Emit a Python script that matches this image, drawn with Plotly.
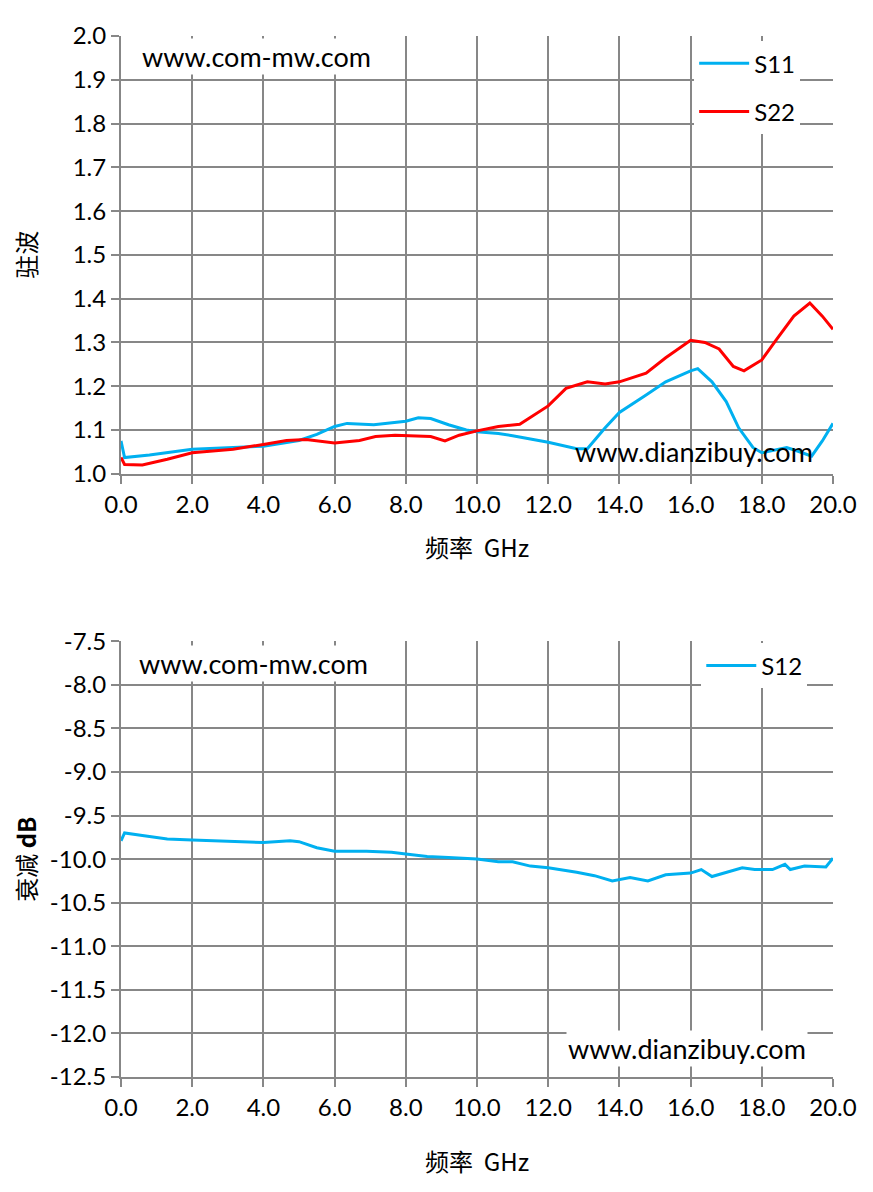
import plotly.graph_objects as go

# top chart: VSWR vs frequency (GHz)
s11_f = [0.0, 0.1, 0.8, 2.0, 3.15, 4.0, 5.0, 5.5, 6.0, 6.35, 7.1, 7.6, 8.0, 8.35, 8.7, 9.2, 9.7,
         10.0, 10.6, 11.0, 12.0, 12.8, 13.1, 13.6, 14.0, 14.75, 15.3, 16.0, 16.2, 16.6, 17.0,
         17.35, 17.75, 18.0, 18.7, 19.0, 19.4, 19.7, 20.0]
s11_v = [1.075, 1.037, 1.043, 1.056, 1.060, 1.063, 1.076, 1.090, 1.108, 1.115, 1.112, 1.117, 1.120,
         1.128, 1.126, 1.112, 1.100, 1.096, 1.092, 1.087, 1.072, 1.057, 1.057, 1.105, 1.140, 1.180,
         1.210, 1.235, 1.240, 1.210, 1.165, 1.105, 1.060, 1.048, 1.060, 1.052, 1.040, 1.075, 1.115]

s22_f = [0.0, 0.1, 0.6, 1.3, 2.0, 3.15, 4.0, 4.65, 5.2, 6.0, 6.7, 7.15, 7.7, 8.35, 8.7, 9.1, 9.5,
         10.0, 10.6, 11.2, 12.0, 12.5, 13.1, 13.6, 14.0, 14.75, 15.3, 16.0, 16.4, 16.8, 17.2, 17.5,
         18.0, 18.4, 18.9, 19.35, 19.7, 20.0]
s22_v = [1.037, 1.021, 1.020, 1.033, 1.048, 1.056, 1.067, 1.076, 1.078, 1.070, 1.076, 1.085, 1.088,
         1.086, 1.085, 1.075, 1.088, 1.098, 1.108, 1.113, 1.155, 1.195, 1.210, 1.205, 1.210, 1.230,
         1.265, 1.305, 1.300, 1.285, 1.245, 1.235, 1.260, 1.305, 1.360, 1.390, 1.360, 1.330]

# bottom chart: attenuation (dB)
s12_f = [0.0, 0.1, 0.6, 1.3, 2.0, 3.15, 4.0, 4.75, 5.0, 5.5, 6.0, 6.9, 7.6, 8.0, 8.6, 9.2, 10.0,
         10.6, 11.0, 11.5, 12.0, 12.8, 13.3, 13.8, 14.3, 14.8, 15.3, 16.0, 16.3, 16.6, 17.0, 17.45,
         17.8, 18.3, 18.65, 18.8, 19.2, 19.8, 20.0]
s12_v = [-9.79, -9.70, -9.73, -9.77, -9.78, -9.80, -9.81, -9.79, -9.80, -9.87, -9.91, -9.91, -9.92,
         -9.94, -9.97, -9.98, -10.00, -10.03, -10.03, -10.08, -10.10, -10.15, -10.19, -10.25, -10.21,
         -10.25, -10.18, -10.16, -10.12, -10.20, -10.15, -10.10, -10.12, -10.12, -10.06, -10.12,
         -10.08, -10.09, -9.99]

x_ticks = [0, 2, 4, 6, 8, 10, 12, 14, 16, 18, 20]
x_labels = ["0.0", "2.0", "4.0", "6.0", "8.0", "10.0", "12.0", "14.0", "16.0", "18.0", "20.0"]
vswr_ticks = [1.0, 1.1, 1.2, 1.3, 1.4, 1.5, 1.6, 1.7, 1.8, 1.9, 2.0]
vswr_labels = ["1.0", "1.1", "1.2", "1.3", "1.4", "1.5", "1.6", "1.7", "1.8", "1.9", "2.0"]
db_ticks = [-7.5, -8.0, -8.5, -9.0, -9.5, -10.0, -10.5, -11.0, -11.5, -12.0, -12.5]
db_labels = ["-7.5", "-8.0", "-8.5", "-9.0", "-9.5", "-10.0", "-10.5", "-11.0", "-11.5", "-12.0", "-12.5"]

BLUE = "#00B0F0"
RED = "#FF0000"
GRID = "#878787"
SANS = "Lato, Open Sans, sans-serif"
TICKFONT = dict(family=SANS, size=24, color="black")
CJK = "Noto Sans CJK SC"

fig = go.Figure()
fig.add_trace(go.Scatter(x=s11_f, y=s11_v, mode="lines", name="S11", line=dict(color=BLUE, width=3),
                         xaxis="x", yaxis="y", legend="legend", legendgroup="a"))
fig.add_trace(go.Scatter(x=s22_f, y=s22_v, mode="lines", name="S22", line=dict(color=RED, width=3),
                         xaxis="x", yaxis="y", legend="legend", legendgroup="b"))
fig.add_trace(go.Scatter(x=s12_f, y=s12_v, mode="lines", name="S12", line=dict(color=BLUE, width=3),
                         xaxis="x2", yaxis="y2", legend="legend2"))

axis_common = dict(showgrid=True, gridcolor=GRID, gridwidth=2, showline=True, linecolor=GRID,
                   linewidth=2, ticks="outside", ticklen=8, tickcolor=GRID, tickwidth=2,
                   tickfont=TICKFONT, zeroline=False, mirror=False)

fig.update_layout(
    width=873, height=1192,
    margin=dict(l=113, r=48, t=22, b=123),
    paper_bgcolor="white", plot_bgcolor="white",
    xaxis=dict(domain=[0, 1], anchor="y", range=[0, 20], tickvals=x_ticks, ticktext=x_labels,
               title=dict(text="频率  GHz", font=dict(family=CJK, size=24, color="black"), standoff=24),
               **axis_common),
    yaxis=dict(domain=[0.5795, 1.0], anchor="x", range=[1.0, 2.0], tickvals=vswr_ticks,
               ticktext=vswr_labels,
               title=dict(text="驻波", font=dict(family=CJK, size=24, color="black"), standoff=30),
               **axis_common),
    xaxis2=dict(domain=[0, 1], anchor="y2", range=[0, 20], tickvals=x_ticks, ticktext=x_labels,
                title=dict(text="频率  GHz", font=dict(family=CJK, size=24, color="black"), standoff=34),
                **axis_common),
    yaxis2=dict(domain=[0, 0.4186], anchor="x2", range=[-12.5, -7.5], tickvals=db_ticks,
                ticktext=db_labels,
                title=dict(text="衰减 <b>dB</b>", font=dict(family=CJK, size=24, color="black"),
                           standoff=10),
                **axis_common),
    legend=dict(x=0.805, y=0.995, xanchor="left", yanchor="top", bgcolor="white",
                font=dict(family=SANS, size=24, color="black"),
                tracegroupgap=14, itemwidth=50),
    legend2=dict(x=0.815, y=0.4166, xanchor="left", yanchor="top", bgcolor="white",
                 font=dict(family=SANS, size=24, color="black"), itemwidth=50),
    annotations=[
        dict(text="www.com-mw.com", xref="paper", yref="paper", x=0.027, y=0.998,
             xanchor="left", yanchor="top", showarrow=False, bgcolor="white",
             font=dict(family=SANS, size=27, color="black")),
        dict(text="www.dianzibuy.com", xref="paper", yref="paper", x=0.635, y=0.583,
             xanchor="left", yanchor="bottom", showarrow=False,
             font=dict(family=SANS, size=27, color="black")),
        dict(text="www.com-mw.com", xref="paper", yref="paper", x=0.023, y=0.415,
             xanchor="left", yanchor="top", showarrow=False, bgcolor="white",
             font=dict(family=SANS, size=27, color="black")),
        dict(text="www.dianzibuy.com", xref="paper", yref="paper", x=0.625, y=0.01,
             xanchor="left", yanchor="bottom", showarrow=False, bgcolor="white",
             font=dict(family=SANS, size=27, color="black")),
    ],
)

fig.write_html("out.html")
